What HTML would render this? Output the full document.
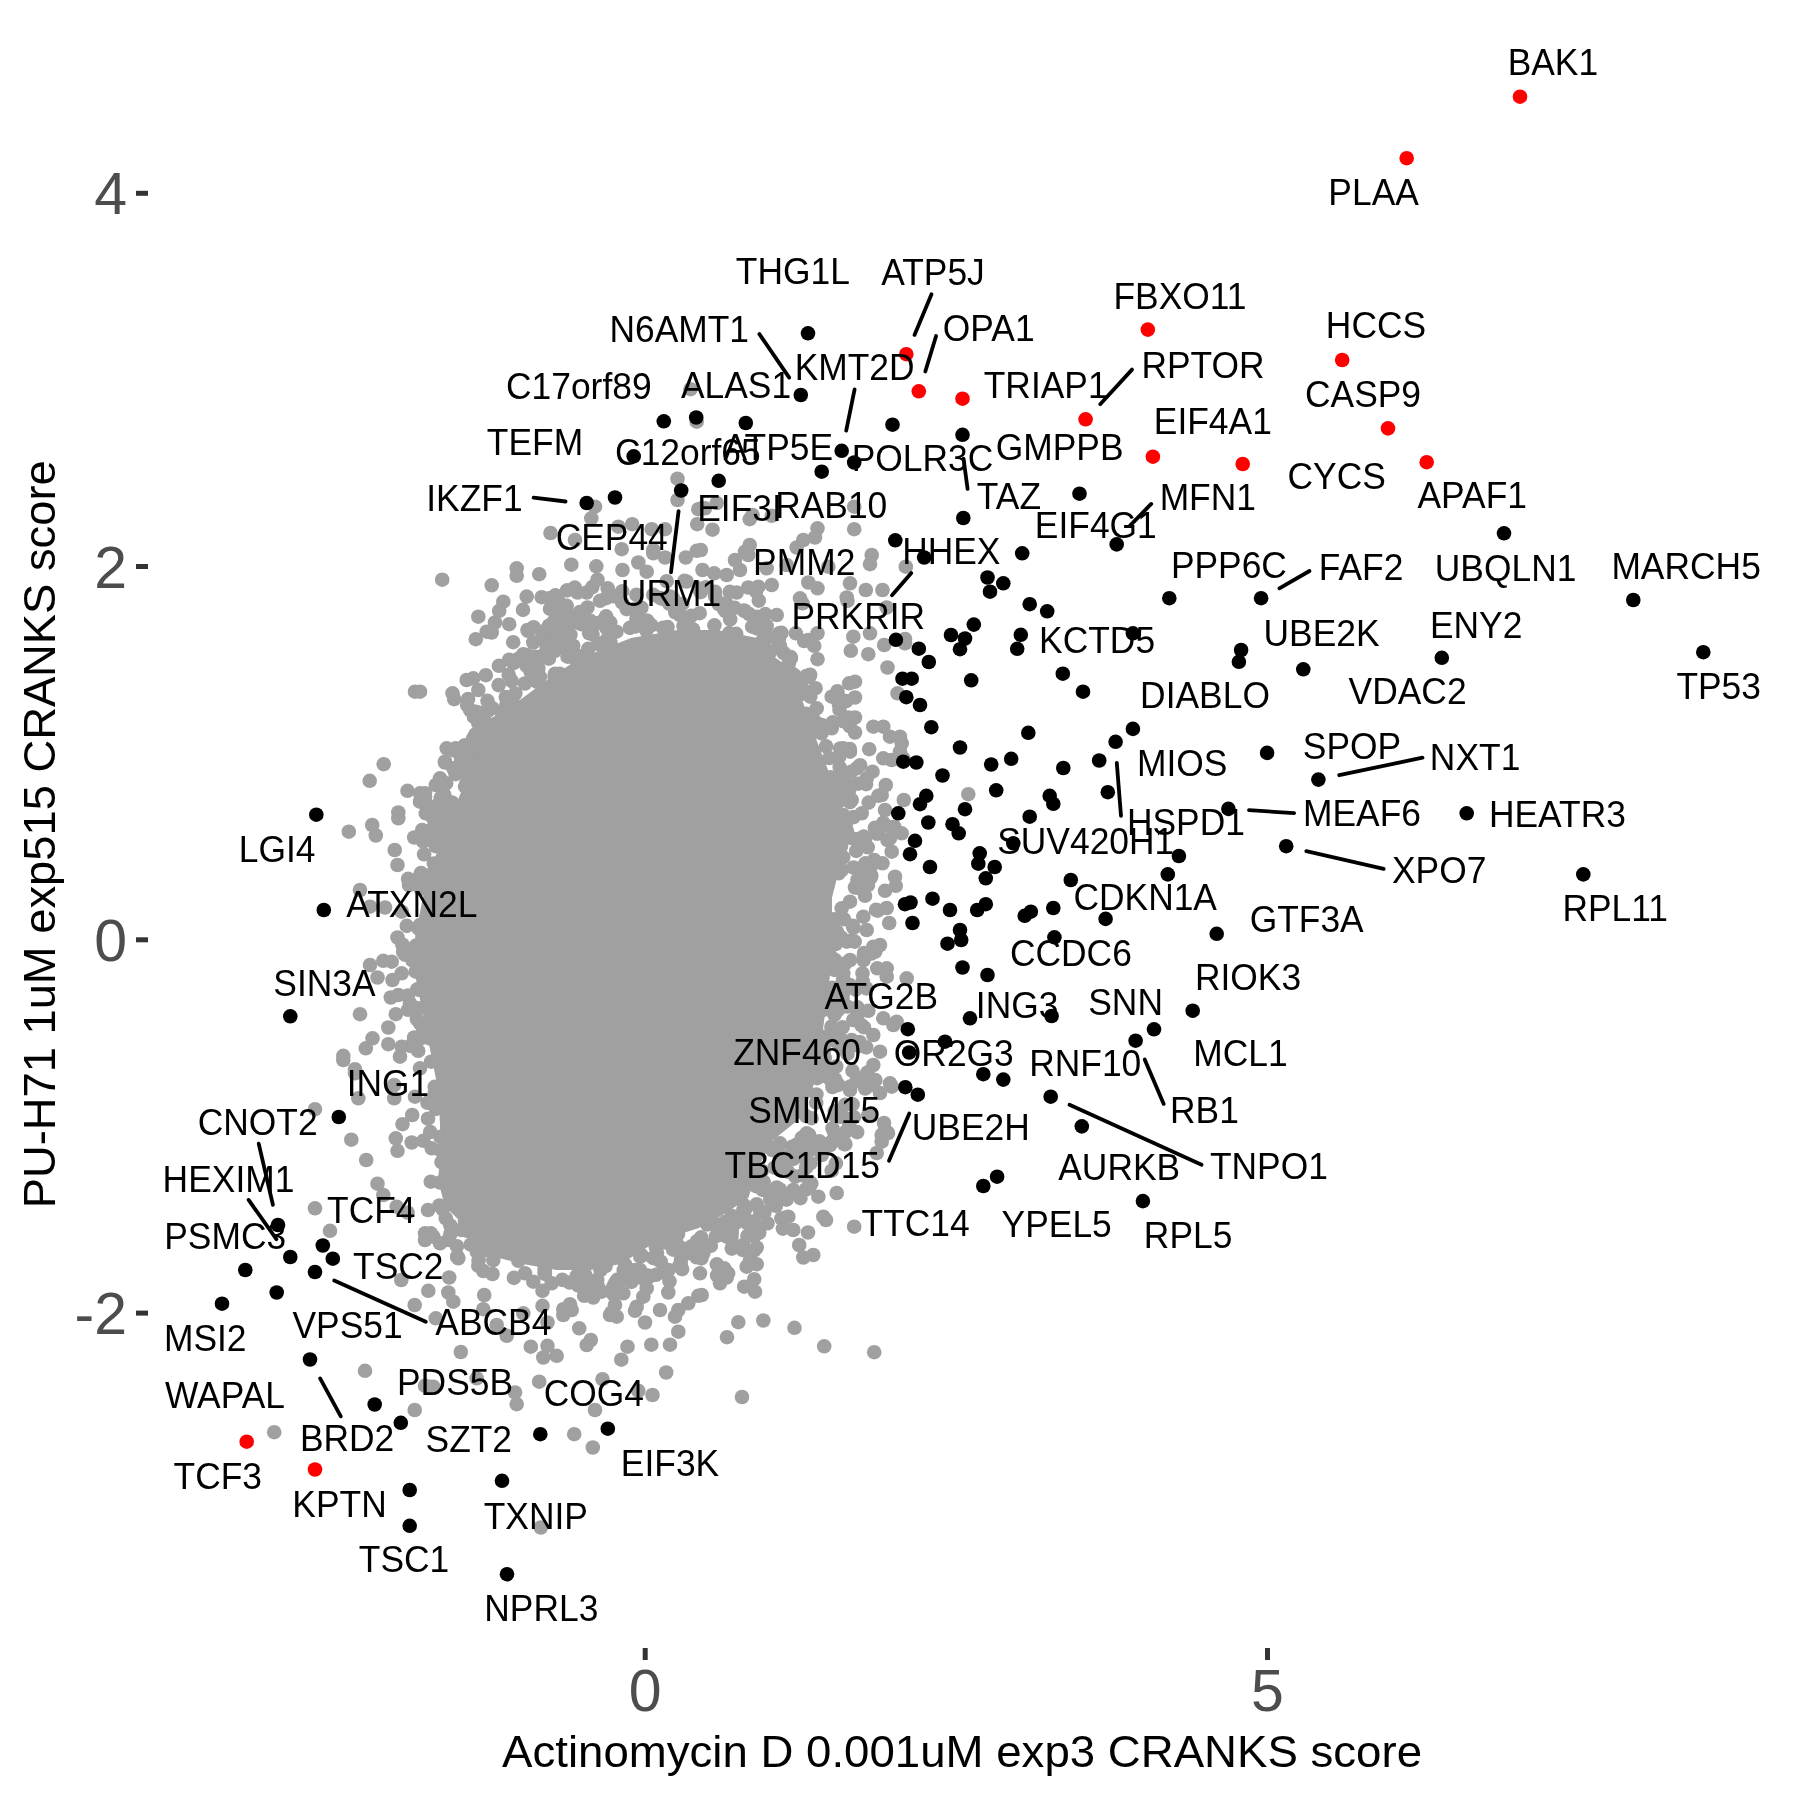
<!DOCTYPE html>
<html><head><meta charset="utf-8"><style>
html,body{margin:0;padding:0;background:#fff;}
svg{display:block;will-change:transform;}
text{font-family:"Liberation Sans",sans-serif;}
</style></head><body>
<svg width="1800" height="1800" viewBox="0 0 1800 1800">
<rect width="1800" height="1800" fill="#fff"/>
<polygon points="483.4,737.8 514.5,706.7 545.6,683.4 580.6,660.0 631.2,640.0 677.8,632.0 716.7,632.0 757.0,640.0 775.0,660.0 786.7,667.8 800.0,700.0 815.0,741.7 830.0,780.6 840.0,820.0 840.0,858.4 830.0,897.3 830.0,936.2 828.0,975.1 823.0,1014.0 817.9,1052.9 810.0,1091.8 795.0,1120.0 770.0,1140.0 755.0,1170.0 746.7,1196.7 721.7,1213.3 696.7,1226.7 655.0,1240.0 620.0,1262.0 590.0,1268.0 556.7,1268.0 523.3,1262.0 486.7,1253.0 466.7,1225.0 446.7,1205.0 440.0,1180.0 443.0,1150.0 440.6,1091.8 432.8,1052.9 425.0,1014.0 417.2,975.1 417.2,936.2 425.0,897.3 436.7,858.4 452.3,819.5 467.8,780.6" fill="#a0a0a0" stroke="#a0a0a0" stroke-width="4" stroke-linejoin="round"/>
<g fill="#a0a0a0"><circle cx="832.2" cy="987.7" r="7.3"/><circle cx="806.3" cy="676.1" r="7.3"/><circle cx="865.9" cy="870.2" r="7.3"/><circle cx="559.7" cy="616.0" r="7.3"/><circle cx="434.7" cy="837.1" r="7.3"/><circle cx="754.4" cy="1183.1" r="7.3"/><circle cx="441.5" cy="1162.1" r="7.3"/><circle cx="557.0" cy="596.4" r="7.3"/><circle cx="473.9" cy="716.9" r="7.3"/><circle cx="576.2" cy="1278.8" r="7.3"/><circle cx="791.0" cy="658.1" r="7.3"/><circle cx="757.8" cy="1185.2" r="7.3"/><circle cx="461.2" cy="759.9" r="7.3"/><circle cx="844.3" cy="834.7" r="7.3"/><circle cx="455.7" cy="748.2" r="7.3"/><circle cx="705.9" cy="587.2" r="7.3"/><circle cx="592.5" cy="634.2" r="7.3"/><circle cx="731.8" cy="1231.9" r="7.3"/><circle cx="555.4" cy="595.3" r="7.3"/><circle cx="788.9" cy="663.0" r="7.3"/><circle cx="513.9" cy="1277.9" r="7.3"/><circle cx="470.2" cy="710.1" r="7.3"/><circle cx="845.4" cy="1144.1" r="7.3"/><circle cx="693.5" cy="1249.0" r="7.3"/><circle cx="460.6" cy="754.7" r="7.3"/><circle cx="838.5" cy="1084.9" r="7.3"/><circle cx="796.6" cy="1152.7" r="7.3"/><circle cx="804.2" cy="641.0" r="7.3"/><circle cx="408.0" cy="1009.8" r="7.3"/><circle cx="435.7" cy="846.1" r="7.3"/><circle cx="856.2" cy="850.9" r="7.3"/><circle cx="838.9" cy="703.8" r="7.3"/><circle cx="407.9" cy="995.5" r="7.3"/><circle cx="476.9" cy="1251.9" r="7.3"/><circle cx="440.5" cy="1136.9" r="7.3"/><circle cx="445.0" cy="762.5" r="7.3"/><circle cx="625.1" cy="1264.6" r="7.3"/><circle cx="652.9" cy="1257.7" r="7.3"/><circle cx="558.3" cy="638.4" r="7.3"/><circle cx="835.6" cy="944.0" r="7.3"/><circle cx="446.5" cy="800.3" r="7.3"/><circle cx="874.9" cy="827.8" r="7.3"/><circle cx="602.8" cy="1266.6" r="7.3"/><circle cx="730.2" cy="619.4" r="7.3"/><circle cx="569.6" cy="616.9" r="7.3"/><circle cx="785.7" cy="1217.6" r="7.3"/><circle cx="810.0" cy="1182.2" r="7.3"/><circle cx="820.8" cy="1151.2" r="7.3"/><circle cx="754.2" cy="1236.0" r="7.3"/><circle cx="809.0" cy="1186.3" r="7.3"/><circle cx="411.2" cy="955.2" r="7.3"/><circle cx="548.8" cy="658.7" r="7.3"/><circle cx="828.8" cy="1002.6" r="7.3"/><circle cx="422.6" cy="1032.9" r="7.3"/><circle cx="717.1" cy="1275.5" r="7.3"/><circle cx="859.6" cy="1042.0" r="7.3"/><circle cx="877.3" cy="968.3" r="7.3"/><circle cx="412.7" cy="960.7" r="7.3"/><circle cx="840.5" cy="997.8" r="7.3"/><circle cx="635.7" cy="626.4" r="7.3"/><circle cx="529.1" cy="657.4" r="7.3"/><circle cx="843.2" cy="978.2" r="7.3"/><circle cx="854.0" cy="1117.2" r="7.3"/><circle cx="544.8" cy="1273.9" r="7.3"/><circle cx="762.7" cy="640.5" r="7.3"/><circle cx="877.8" cy="830.8" r="7.3"/><circle cx="869.9" cy="873.5" r="7.3"/><circle cx="674.6" cy="1242.0" r="7.3"/><circle cx="495.0" cy="724.6" r="7.3"/><circle cx="782.9" cy="1228.6" r="7.3"/><circle cx="452.6" cy="809.0" r="7.3"/><circle cx="606.0" cy="598.2" r="7.3"/><circle cx="450.4" cy="1234.0" r="7.3"/><circle cx="756.9" cy="628.4" r="7.3"/><circle cx="830.1" cy="1142.9" r="7.3"/><circle cx="538.4" cy="668.1" r="7.3"/><circle cx="562.3" cy="1279.9" r="7.3"/><circle cx="744.2" cy="1205.2" r="7.3"/><circle cx="444.0" cy="784.9" r="7.3"/><circle cx="841.7" cy="917.9" r="7.3"/><circle cx="629.9" cy="627.9" r="7.3"/><circle cx="438.1" cy="823.9" r="7.3"/><circle cx="653.3" cy="594.8" r="7.3"/><circle cx="777.0" cy="1196.9" r="7.3"/><circle cx="617.2" cy="1279.9" r="7.3"/><circle cx="819.3" cy="1141.2" r="7.3"/><circle cx="439.8" cy="1092.2" r="7.3"/><circle cx="809.2" cy="676.9" r="7.3"/><circle cx="749.3" cy="614.1" r="7.3"/><circle cx="518.4" cy="658.8" r="7.3"/><circle cx="579.9" cy="612.0" r="7.3"/><circle cx="416.0" cy="945.6" r="7.3"/><circle cx="542.1" cy="637.3" r="7.3"/><circle cx="554.0" cy="632.1" r="7.3"/><circle cx="812.0" cy="716.0" r="7.3"/><circle cx="836.2" cy="1066.5" r="7.3"/><circle cx="675.3" cy="612.4" r="7.3"/><circle cx="573.7" cy="622.1" r="7.3"/><circle cx="607.7" cy="588.4" r="7.3"/><circle cx="833.7" cy="785.7" r="7.3"/><circle cx="806.1" cy="1116.2" r="7.3"/><circle cx="591.0" cy="1280.7" r="7.3"/><circle cx="863.6" cy="960.2" r="7.3"/><circle cx="867.9" cy="885.2" r="7.3"/><circle cx="855.7" cy="989.6" r="7.3"/><circle cx="430.8" cy="806.8" r="7.3"/><circle cx="483.3" cy="713.4" r="7.3"/><circle cx="579.6" cy="1284.4" r="7.3"/><circle cx="783.8" cy="653.0" r="7.3"/><circle cx="724.0" cy="608.9" r="7.3"/><circle cx="421.0" cy="873.0" r="7.3"/><circle cx="554.5" cy="676.9" r="7.3"/><circle cx="731.8" cy="1248.6" r="7.3"/><circle cx="832.7" cy="722.3" r="7.3"/><circle cx="839.7" cy="767.4" r="7.3"/><circle cx="434.8" cy="1093.5" r="7.3"/><circle cx="830.1" cy="1145.0" r="7.3"/><circle cx="678.1" cy="605.5" r="7.3"/><circle cx="541.7" cy="597.2" r="7.3"/><circle cx="824.2" cy="1050.1" r="7.3"/><circle cx="601.7" cy="1291.6" r="7.3"/><circle cx="449.1" cy="822.6" r="7.3"/><circle cx="857.5" cy="1014.9" r="7.3"/><circle cx="574.5" cy="658.3" r="7.3"/><circle cx="431.1" cy="1061.7" r="7.3"/><circle cx="770.2" cy="1199.1" r="7.3"/><circle cx="833.0" cy="937.5" r="7.3"/><circle cx="691.2" cy="615.8" r="7.3"/><circle cx="823.1" cy="1053.5" r="7.3"/><circle cx="753.6" cy="1225.0" r="7.3"/><circle cx="770.5" cy="651.5" r="7.3"/><circle cx="467.2" cy="705.2" r="7.3"/><circle cx="481.2" cy="716.3" r="7.3"/><circle cx="588.2" cy="648.9" r="7.3"/><circle cx="831.2" cy="781.2" r="7.3"/><circle cx="682.1" cy="1269.2" r="7.3"/><circle cx="647.8" cy="621.6" r="7.3"/><circle cx="668.4" cy="1270.1" r="7.3"/><circle cx="513.4" cy="663.2" r="7.3"/><circle cx="526.3" cy="665.6" r="7.3"/><circle cx="743.8" cy="610.5" r="7.3"/><circle cx="836.7" cy="931.3" r="7.3"/><circle cx="850.3" cy="940.7" r="7.3"/><circle cx="468.4" cy="776.3" r="7.3"/><circle cx="842.1" cy="1116.5" r="7.3"/><circle cx="600.5" cy="1270.2" r="7.3"/><circle cx="803.6" cy="1139.9" r="7.3"/><circle cx="533.6" cy="627.2" r="7.3"/><circle cx="811.6" cy="1118.2" r="7.3"/><circle cx="629.4" cy="1280.0" r="7.3"/><circle cx="854.1" cy="1043.2" r="7.3"/><circle cx="700.6" cy="592.2" r="7.3"/><circle cx="816.4" cy="1094.5" r="7.3"/><circle cx="754.3" cy="1250.3" r="7.3"/><circle cx="646.8" cy="620.5" r="7.3"/><circle cx="817.0" cy="1078.2" r="7.3"/><circle cx="849.8" cy="726.2" r="7.3"/><circle cx="864.1" cy="953.0" r="7.3"/><circle cx="842.9" cy="721.2" r="7.3"/><circle cx="457.3" cy="1256.3" r="7.3"/><circle cx="857.4" cy="1007.3" r="7.3"/><circle cx="842.5" cy="997.8" r="7.3"/><circle cx="742.6" cy="1249.9" r="7.3"/><circle cx="668.8" cy="1237.5" r="7.3"/><circle cx="557.0" cy="625.1" r="7.3"/><circle cx="811.3" cy="1183.6" r="7.3"/><circle cx="474.7" cy="739.1" r="7.3"/><circle cx="824.1" cy="1075.8" r="7.3"/><circle cx="450.3" cy="1225.5" r="7.3"/><circle cx="786.5" cy="1199.7" r="7.3"/><circle cx="833.7" cy="919.4" r="7.3"/><circle cx="480.2" cy="722.5" r="7.3"/><circle cx="814.6" cy="1074.3" r="7.3"/><circle cx="823.9" cy="1063.0" r="7.3"/><circle cx="403.2" cy="951.7" r="7.3"/><circle cx="678.0" cy="1234.0" r="7.3"/><circle cx="860.1" cy="765.2" r="7.3"/><circle cx="841.0" cy="846.3" r="7.3"/><circle cx="839.2" cy="1036.3" r="7.3"/><circle cx="806.1" cy="1167.7" r="7.3"/><circle cx="847.6" cy="1119.3" r="7.3"/><circle cx="686.5" cy="581.5" r="7.3"/><circle cx="731.5" cy="1236.7" r="7.3"/><circle cx="421.4" cy="1038.0" r="7.3"/><circle cx="715.1" cy="596.5" r="7.3"/><circle cx="444.3" cy="794.9" r="7.3"/><circle cx="853.5" cy="817.1" r="7.3"/><circle cx="451.9" cy="802.5" r="7.3"/><circle cx="866.4" cy="988.4" r="7.3"/><circle cx="843.0" cy="993.3" r="7.3"/><circle cx="670.1" cy="596.6" r="7.3"/><circle cx="844.2" cy="796.6" r="7.3"/><circle cx="815.6" cy="688.2" r="7.3"/><circle cx="509.2" cy="659.7" r="7.3"/><circle cx="822.8" cy="1036.8" r="7.3"/><circle cx="725.5" cy="611.2" r="7.3"/><circle cx="466.8" cy="771.6" r="7.3"/><circle cx="852.9" cy="925.8" r="7.3"/><circle cx="780.6" cy="1155.2" r="7.3"/><circle cx="868.1" cy="1086.0" r="7.3"/><circle cx="845.1" cy="1104.9" r="7.3"/><circle cx="734.7" cy="607.8" r="7.3"/><circle cx="824.8" cy="1057.8" r="7.3"/><circle cx="859.5" cy="838.7" r="7.3"/><circle cx="845.2" cy="797.6" r="7.3"/><circle cx="678.2" cy="609.0" r="7.3"/><circle cx="640.2" cy="619.8" r="7.3"/><circle cx="852.6" cy="1104.4" r="7.3"/><circle cx="584.8" cy="1274.2" r="7.3"/><circle cx="672.9" cy="597.9" r="7.3"/><circle cx="518.4" cy="1260.8" r="7.3"/><circle cx="862.0" cy="843.2" r="7.3"/><circle cx="847.5" cy="791.0" r="7.3"/><circle cx="683.5" cy="626.0" r="7.3"/><circle cx="834.4" cy="969.9" r="7.3"/><circle cx="524.9" cy="683.5" r="7.3"/><circle cx="831.7" cy="1026.5" r="7.3"/><circle cx="792.1" cy="1146.9" r="7.3"/><circle cx="615.2" cy="1282.9" r="7.3"/><circle cx="427.4" cy="884.4" r="7.3"/><circle cx="819.7" cy="726.3" r="7.3"/><circle cx="866.9" cy="876.3" r="7.3"/><circle cx="816.9" cy="723.1" r="7.3"/><circle cx="850.3" cy="1086.5" r="7.3"/><circle cx="440.7" cy="797.8" r="7.3"/><circle cx="437.3" cy="805.3" r="7.3"/><circle cx="505.8" cy="697.1" r="7.3"/><circle cx="810.5" cy="1163.2" r="7.3"/><circle cx="681.6" cy="1248.2" r="7.3"/><circle cx="567.9" cy="615.1" r="7.3"/><circle cx="418.1" cy="927.6" r="7.3"/><circle cx="875.4" cy="1080.1" r="7.3"/><circle cx="481.1" cy="738.3" r="7.3"/><circle cx="822.7" cy="1067.6" r="7.3"/><circle cx="492.5" cy="1274.0" r="7.3"/><circle cx="735.3" cy="1222.9" r="7.3"/><circle cx="863.9" cy="955.7" r="7.3"/><circle cx="623.7" cy="1270.3" r="7.3"/><circle cx="883.2" cy="822.8" r="7.3"/><circle cx="871.3" cy="953.5" r="7.3"/><circle cx="430.9" cy="829.9" r="7.3"/><circle cx="610.3" cy="622.6" r="7.3"/><circle cx="669.1" cy="603.6" r="7.3"/><circle cx="417.3" cy="989.3" r="7.3"/><circle cx="420.0" cy="875.9" r="7.3"/><circle cx="779.0" cy="637.9" r="7.3"/><circle cx="835.1" cy="989.1" r="7.3"/><circle cx="832.4" cy="1087.0" r="7.3"/><circle cx="656.0" cy="1274.8" r="7.3"/><circle cx="485.8" cy="675.2" r="7.3"/><circle cx="876.0" cy="909.9" r="7.3"/><circle cx="835.4" cy="1033.8" r="7.3"/><circle cx="701.4" cy="1258.4" r="7.3"/><circle cx="487.8" cy="710.8" r="7.3"/><circle cx="858.4" cy="1045.4" r="7.3"/><circle cx="875.3" cy="951.6" r="7.3"/><circle cx="511.6" cy="680.9" r="7.3"/><circle cx="866.2" cy="1047.4" r="7.3"/><circle cx="788.1" cy="1171.8" r="7.3"/><circle cx="765.6" cy="632.2" r="7.3"/><circle cx="832.0" cy="994.1" r="7.3"/><circle cx="584.0" cy="622.9" r="7.3"/><circle cx="853.5" cy="867.5" r="7.3"/><circle cx="526.7" cy="596.6" r="7.3"/><circle cx="715.9" cy="1236.2" r="7.3"/><circle cx="792.2" cy="673.7" r="7.3"/><circle cx="806.1" cy="713.9" r="7.3"/><circle cx="696.5" cy="1257.3" r="7.3"/><circle cx="427.5" cy="1102.8" r="7.3"/><circle cx="850.5" cy="719.8" r="7.3"/><circle cx="701.2" cy="1237.4" r="7.3"/><circle cx="699.3" cy="588.6" r="7.3"/><circle cx="409.0" cy="885.0" r="7.3"/><circle cx="858.4" cy="783.7" r="7.3"/><circle cx="837.4" cy="691.2" r="7.3"/><circle cx="736.2" cy="633.8" r="7.3"/><circle cx="646.3" cy="630.6" r="7.3"/><circle cx="845.1" cy="987.8" r="7.3"/><circle cx="641.3" cy="1272.9" r="7.3"/><circle cx="429.6" cy="1038.4" r="7.3"/><circle cx="765.2" cy="614.1" r="7.3"/><circle cx="446.1" cy="783.3" r="7.3"/><circle cx="831.7" cy="1170.7" r="7.3"/><circle cx="655.9" cy="1247.2" r="7.3"/><circle cx="673.2" cy="1249.7" r="7.3"/><circle cx="569.7" cy="1282.5" r="7.3"/><circle cx="484.2" cy="729.4" r="7.3"/><circle cx="795.3" cy="1176.6" r="7.3"/><circle cx="857.2" cy="1132.1" r="7.3"/><circle cx="841.4" cy="937.6" r="7.3"/><circle cx="434.7" cy="1086.8" r="7.3"/><circle cx="847.5" cy="1053.8" r="7.3"/><circle cx="707.2" cy="1224.4" r="7.3"/><circle cx="818.7" cy="726.6" r="7.3"/><circle cx="418.3" cy="1008.4" r="7.3"/><circle cx="513.2" cy="703.5" r="7.3"/><circle cx="768.7" cy="1146.4" r="7.3"/><circle cx="616.4" cy="631.7" r="7.3"/><circle cx="414.1" cy="1008.5" r="7.3"/><circle cx="801.9" cy="1112.3" r="7.3"/><circle cx="436.0" cy="1108.9" r="7.3"/><circle cx="800.9" cy="694.1" r="7.3"/><circle cx="622.2" cy="591.3" r="7.3"/><circle cx="666.7" cy="581.2" r="7.3"/><circle cx="591.1" cy="1289.4" r="7.3"/><circle cx="574.8" cy="587.6" r="7.3"/><circle cx="663.0" cy="627.8" r="7.3"/><circle cx="846.2" cy="701.1" r="7.3"/><circle cx="846.8" cy="830.8" r="7.3"/><circle cx="773.1" cy="1203.6" r="7.3"/><circle cx="796.4" cy="1144.8" r="7.3"/><circle cx="877.1" cy="833.8" r="7.3"/><circle cx="821.5" cy="733.4" r="7.3"/><circle cx="862.7" cy="981.3" r="7.3"/><circle cx="498.6" cy="685.1" r="7.3"/><circle cx="641.4" cy="607.7" r="7.3"/><circle cx="805.3" cy="1156.0" r="7.3"/><circle cx="857.4" cy="879.9" r="7.3"/><circle cx="765.4" cy="649.4" r="7.3"/><circle cx="714.4" cy="625.3" r="7.3"/><circle cx="405.2" cy="954.8" r="7.3"/><circle cx="779.8" cy="1189.5" r="7.3"/><circle cx="747.2" cy="1223.1" r="7.3"/><circle cx="849.8" cy="749.0" r="7.3"/><circle cx="567.1" cy="590.4" r="7.3"/><circle cx="835.9" cy="1030.2" r="7.3"/><circle cx="420.8" cy="888.8" r="7.3"/><circle cx="726.1" cy="603.2" r="7.3"/><circle cx="456.9" cy="1246.2" r="7.3"/><circle cx="432.3" cy="817.1" r="7.3"/><circle cx="808.2" cy="1141.1" r="7.3"/><circle cx="475.5" cy="734.3" r="7.3"/><circle cx="647.9" cy="1275.6" r="7.3"/><circle cx="408.1" cy="878.9" r="7.3"/><circle cx="502.0" cy="712.6" r="7.3"/><circle cx="867.7" cy="847.3" r="7.3"/><circle cx="835.7" cy="1039.4" r="7.3"/><circle cx="716.8" cy="1264.4" r="7.3"/><circle cx="651.4" cy="625.3" r="7.3"/><circle cx="444.3" cy="833.7" r="7.3"/><circle cx="718.7" cy="1233.6" r="7.3"/><circle cx="478.6" cy="1260.5" r="7.3"/><circle cx="757.2" cy="616.7" r="7.3"/><circle cx="539.8" cy="676.7" r="7.3"/><circle cx="667.6" cy="627.1" r="7.3"/><circle cx="826.1" cy="746.3" r="7.3"/><circle cx="665.1" cy="1242.4" r="7.3"/><circle cx="455.6" cy="774.2" r="7.3"/><circle cx="662.3" cy="598.8" r="7.3"/><circle cx="849.9" cy="785.6" r="7.3"/><circle cx="831.0" cy="990.6" r="7.3"/><circle cx="774.4" cy="1167.7" r="7.3"/><circle cx="699.7" cy="613.2" r="7.3"/><circle cx="592.3" cy="587.1" r="7.3"/><circle cx="565.5" cy="641.4" r="7.3"/><circle cx="832.0" cy="992.1" r="7.3"/><circle cx="806.1" cy="1160.4" r="7.3"/><circle cx="682.3" cy="603.9" r="7.3"/><circle cx="508.7" cy="674.9" r="7.3"/><circle cx="691.2" cy="1246.6" r="7.3"/><circle cx="865.2" cy="1088.5" r="7.3"/><circle cx="831.3" cy="784.8" r="7.3"/><circle cx="819.8" cy="1049.0" r="7.3"/><circle cx="432.8" cy="831.0" r="7.3"/><circle cx="515.3" cy="693.5" r="7.3"/><circle cx="439.0" cy="817.1" r="7.3"/><circle cx="801.7" cy="1137.9" r="7.3"/><circle cx="802.0" cy="1175.3" r="7.3"/><circle cx="810.3" cy="696.6" r="7.3"/><circle cx="681.0" cy="1259.7" r="7.3"/><circle cx="649.9" cy="1276.4" r="7.3"/><circle cx="578.3" cy="1285.5" r="7.3"/><circle cx="430.2" cy="1132.0" r="7.3"/><circle cx="843.3" cy="815.0" r="7.3"/><circle cx="523.0" cy="609.9" r="7.3"/><circle cx="844.4" cy="782.7" r="7.3"/><circle cx="596.1" cy="623.5" r="7.3"/><circle cx="812.8" cy="718.6" r="7.3"/><circle cx="858.8" cy="1046.1" r="7.3"/><circle cx="833.9" cy="788.0" r="7.3"/><circle cx="850.0" cy="985.1" r="7.3"/><circle cx="402.3" cy="944.5" r="7.3"/><circle cx="561.4" cy="626.5" r="7.3"/><circle cx="535.8" cy="680.6" r="7.3"/><circle cx="841.9" cy="838.6" r="7.3"/><circle cx="635.2" cy="608.7" r="7.3"/><circle cx="830.3" cy="1003.9" r="7.3"/><circle cx="532.4" cy="677.4" r="7.3"/><circle cx="822.5" cy="1041.3" r="7.3"/><circle cx="853.6" cy="927.8" r="7.3"/><circle cx="468.1" cy="699.0" r="7.3"/><circle cx="771.1" cy="1201.1" r="7.3"/><circle cx="631.4" cy="1281.9" r="7.3"/><circle cx="548.5" cy="634.0" r="7.3"/><circle cx="804.8" cy="691.1" r="7.3"/><circle cx="439.4" cy="1205.5" r="7.3"/><circle cx="813.0" cy="732.3" r="7.3"/><circle cx="816.2" cy="1102.7" r="7.3"/><circle cx="464.9" cy="745.2" r="7.3"/><circle cx="834.5" cy="1133.4" r="7.3"/><circle cx="496.3" cy="723.3" r="7.3"/><circle cx="549.2" cy="625.5" r="7.3"/><circle cx="759.2" cy="1232.7" r="7.3"/><circle cx="720.5" cy="1234.6" r="7.3"/><circle cx="841.5" cy="797.5" r="7.3"/><circle cx="559.1" cy="606.4" r="7.3"/><circle cx="475.8" cy="711.8" r="7.3"/><circle cx="590.4" cy="620.9" r="7.3"/><circle cx="433.9" cy="863.5" r="7.3"/><circle cx="440.7" cy="844.5" r="7.3"/><circle cx="778.6" cy="1166.8" r="7.3"/><circle cx="669.5" cy="1281.3" r="7.3"/><circle cx="758.8" cy="600.6" r="7.3"/><circle cx="752.2" cy="626.7" r="7.3"/><circle cx="782.8" cy="1161.4" r="7.3"/><circle cx="845.2" cy="963.6" r="7.3"/><circle cx="874.4" cy="863.1" r="7.3"/><circle cx="513.2" cy="642.2" r="7.3"/><circle cx="468.1" cy="1231.0" r="7.3"/><circle cx="831.0" cy="1005.6" r="7.3"/><circle cx="406.8" cy="925.9" r="7.3"/><circle cx="765.3" cy="639.0" r="7.3"/><circle cx="597.2" cy="1279.7" r="7.3"/><circle cx="842.7" cy="774.3" r="7.3"/><circle cx="877.9" cy="910.6" r="7.3"/><circle cx="732.9" cy="1244.8" r="7.3"/><circle cx="418.7" cy="928.5" r="7.3"/><circle cx="486.0" cy="722.8" r="7.3"/><circle cx="800.4" cy="1198.2" r="7.3"/><circle cx="606.6" cy="628.3" r="7.3"/><circle cx="459.3" cy="767.2" r="7.3"/><circle cx="473.2" cy="1244.3" r="7.3"/><circle cx="470.0" cy="757.2" r="7.3"/><circle cx="483.3" cy="1271.0" r="7.3"/><circle cx="781.5" cy="632.8" r="7.3"/><circle cx="779.8" cy="1169.6" r="7.3"/><circle cx="403.4" cy="946.5" r="7.3"/><circle cx="627.0" cy="1274.4" r="7.3"/><circle cx="839.5" cy="709.7" r="7.3"/><circle cx="465.1" cy="786.6" r="7.3"/><circle cx="838.0" cy="1009.9" r="7.3"/><circle cx="616.0" cy="1287.2" r="7.3"/><circle cx="837.2" cy="1010.7" r="7.3"/><circle cx="429.0" cy="875.6" r="7.3"/><circle cx="657.0" cy="1252.8" r="7.3"/><circle cx="570.4" cy="634.7" r="7.3"/><circle cx="845.6" cy="825.2" r="7.3"/><circle cx="864.0" cy="1027.3" r="7.3"/><circle cx="725.4" cy="1222.0" r="7.3"/><circle cx="460.2" cy="752.1" r="7.3"/><circle cx="868.7" cy="802.6" r="7.3"/><circle cx="839.2" cy="700.7" r="7.3"/><circle cx="418.2" cy="1050.8" r="7.3"/><circle cx="841.5" cy="1048.4" r="7.3"/><circle cx="854.7" cy="941.6" r="7.3"/><circle cx="543.1" cy="655.1" r="7.3"/><circle cx="831.9" cy="1074.3" r="7.3"/><circle cx="656.0" cy="1241.7" r="7.3"/><circle cx="641.6" cy="1255.2" r="7.3"/><circle cx="597.8" cy="643.2" r="7.3"/><circle cx="711.9" cy="1223.9" r="7.3"/><circle cx="856.5" cy="1080.9" r="7.3"/><circle cx="861.4" cy="1025.1" r="7.3"/><circle cx="835.5" cy="1116.6" r="7.3"/><circle cx="697.4" cy="1253.9" r="7.3"/><circle cx="838.2" cy="987.4" r="7.3"/><circle cx="806.6" cy="1160.1" r="7.3"/><circle cx="754.2" cy="1221.2" r="7.3"/><circle cx="479.8" cy="712.7" r="7.3"/><circle cx="559.8" cy="673.8" r="7.3"/><circle cx="838.3" cy="1002.5" r="7.3"/><circle cx="838.2" cy="801.9" r="7.3"/><circle cx="530.8" cy="672.2" r="7.3"/><circle cx="457.2" cy="1256.8" r="7.3"/><circle cx="835.9" cy="1163.3" r="7.3"/><circle cx="528.5" cy="631.0" r="7.3"/><circle cx="863.6" cy="836.6" r="7.3"/><circle cx="424.1" cy="854.3" r="7.3"/><circle cx="696.9" cy="1241.4" r="7.3"/><circle cx="693.0" cy="629.3" r="7.3"/><circle cx="763.7" cy="1181.9" r="7.3"/><circle cx="835.1" cy="1079.5" r="7.3"/><circle cx="793.4" cy="1158.9" r="7.3"/><circle cx="659.7" cy="597.7" r="7.3"/><circle cx="544.6" cy="1269.4" r="7.3"/><circle cx="781.4" cy="1218.4" r="7.3"/><circle cx="840.2" cy="748.5" r="7.3"/><circle cx="845.7" cy="1131.9" r="7.3"/><circle cx="432.3" cy="836.5" r="7.3"/><circle cx="684.4" cy="580.8" r="7.3"/><circle cx="718.7" cy="604.0" r="7.3"/><circle cx="468.9" cy="777.0" r="7.3"/><circle cx="794.5" cy="675.5" r="7.3"/><circle cx="506.3" cy="705.0" r="7.3"/><circle cx="867.5" cy="1072.5" r="7.3"/><circle cx="410.3" cy="1045.9" r="7.3"/><circle cx="829.3" cy="758.0" r="7.3"/><circle cx="484.4" cy="1250.3" r="7.3"/><circle cx="824.2" cy="1009.6" r="7.3"/><circle cx="851.1" cy="771.8" r="7.3"/><circle cx="654.2" cy="1258.3" r="7.3"/><circle cx="622.0" cy="602.3" r="7.3"/><circle cx="762.6" cy="1189.8" r="7.3"/><circle cx="729.1" cy="633.1" r="7.3"/><circle cx="573.2" cy="645.7" r="7.3"/><circle cx="554.9" cy="673.8" r="7.3"/><circle cx="725.0" cy="1222.2" r="7.3"/><circle cx="735.2" cy="1223.4" r="7.3"/><circle cx="830.3" cy="777.4" r="7.3"/><circle cx="789.0" cy="1158.0" r="7.3"/><circle cx="442.7" cy="1209.4" r="7.3"/><circle cx="498.9" cy="665.8" r="7.3"/><circle cx="440.7" cy="1150.4" r="7.3"/><circle cx="871.3" cy="875.6" r="7.3"/><circle cx="800.8" cy="684.9" r="7.3"/><circle cx="552.9" cy="638.7" r="7.3"/><circle cx="760.0" cy="1210.7" r="7.3"/><circle cx="548.7" cy="650.4" r="7.3"/><circle cx="761.4" cy="1170.4" r="7.3"/><circle cx="835.5" cy="1041.2" r="7.3"/><circle cx="606.5" cy="640.1" r="7.3"/><circle cx="606.1" cy="616.3" r="7.3"/><circle cx="636.4" cy="618.8" r="7.3"/><circle cx="470.7" cy="1244.7" r="7.3"/><circle cx="581.1" cy="624.2" r="7.3"/><circle cx="679.1" cy="1266.1" r="7.3"/><circle cx="790.7" cy="657.1" r="7.3"/><circle cx="850.0" cy="802.2" r="7.3"/><circle cx="636.4" cy="594.8" r="7.3"/><circle cx="805.9" cy="1189.5" r="7.3"/><circle cx="502.3" cy="715.0" r="7.3"/><circle cx="830.2" cy="1070.5" r="7.3"/><circle cx="640.3" cy="1256.7" r="7.3"/><circle cx="452.0" cy="1228.1" r="7.3"/><circle cx="865.4" cy="863.3" r="7.3"/><circle cx="842.6" cy="1027.3" r="7.3"/><circle cx="469.8" cy="759.1" r="7.3"/><circle cx="605.6" cy="1266.0" r="7.3"/><circle cx="755.1" cy="1230.0" r="7.3"/><circle cx="492.4" cy="708.2" r="7.3"/><circle cx="544.8" cy="1273.2" r="7.3"/><circle cx="732.8" cy="634.8" r="7.3"/><circle cx="832.8" cy="928.5" r="7.3"/><circle cx="610.4" cy="642.4" r="7.3"/><circle cx="772.4" cy="1150.2" r="7.3"/><circle cx="761.5" cy="1171.4" r="7.3"/><circle cx="700.6" cy="1255.5" r="7.3"/><circle cx="827.0" cy="1040.2" r="7.3"/><circle cx="756.0" cy="591.4" r="7.3"/><circle cx="834.8" cy="1111.4" r="7.3"/><circle cx="810.1" cy="674.7" r="7.3"/><circle cx="811.8" cy="1149.2" r="7.3"/><circle cx="834.5" cy="1014.9" r="7.3"/><circle cx="843.2" cy="857.4" r="7.3"/><circle cx="839.6" cy="776.8" r="7.3"/><circle cx="851.2" cy="838.0" r="7.3"/><circle cx="453.7" cy="750.4" r="7.3"/><circle cx="744.9" cy="611.0" r="7.3"/><circle cx="729.8" cy="591.9" r="7.3"/><circle cx="551.6" cy="642.7" r="7.3"/><circle cx="599.6" cy="644.5" r="7.3"/><circle cx="858.4" cy="887.8" r="7.3"/><circle cx="866.1" cy="784.1" r="7.3"/><circle cx="764.4" cy="1212.6" r="7.3"/><circle cx="466.5" cy="783.4" r="7.3"/><circle cx="719.9" cy="1272.3" r="7.3"/><circle cx="844.0" cy="919.2" r="7.3"/><circle cx="838.7" cy="873.3" r="7.3"/><circle cx="550.0" cy="608.8" r="7.3"/><circle cx="756.0" cy="1186.1" r="7.3"/><circle cx="416.9" cy="1019.1" r="7.3"/><circle cx="849.2" cy="1123.3" r="7.3"/><circle cx="847.2" cy="1006.5" r="7.3"/><circle cx="716.9" cy="1224.6" r="7.3"/><circle cx="642.9" cy="1278.5" r="7.3"/><circle cx="830.6" cy="956.2" r="7.3"/><circle cx="562.1" cy="605.2" r="7.3"/><circle cx="745.8" cy="1208.3" r="7.3"/><circle cx="580.2" cy="656.4" r="7.3"/><circle cx="829.9" cy="992.6" r="7.3"/><circle cx="728.1" cy="1273.4" r="7.3"/><circle cx="554.5" cy="651.0" r="7.3"/><circle cx="843.2" cy="1142.6" r="7.3"/><circle cx="777.8" cy="640.5" r="7.3"/><circle cx="690.5" cy="389.2" r="7.3"/><circle cx="696.7" cy="421.7" r="7.3"/><circle cx="677.5" cy="478.7" r="7.3"/><circle cx="677.5" cy="500.0" r="7.3"/><circle cx="595.0" cy="506.7" r="7.3"/><circle cx="591.3" cy="518.3" r="7.3"/><circle cx="550.5" cy="533.0" r="7.3"/><circle cx="618.3" cy="526.7" r="7.3"/><circle cx="632.2" cy="524.2" r="7.3"/><circle cx="651.7" cy="529.2" r="7.3"/><circle cx="665.0" cy="529.2" r="7.3"/><circle cx="697.2" cy="524.2" r="7.3"/><circle cx="712.5" cy="529.7" r="7.3"/><circle cx="701.7" cy="508.3" r="7.3"/><circle cx="716.7" cy="503.0" r="7.3"/><circle cx="749.7" cy="519.2" r="7.3"/><circle cx="771.7" cy="515.8" r="7.3"/><circle cx="749.7" cy="545.0" r="7.3"/><circle cx="621.7" cy="549.2" r="7.3"/><circle cx="575.0" cy="540.0" r="7.3"/><circle cx="696.7" cy="550.8" r="7.3"/><circle cx="653.3" cy="550.0" r="7.3"/><circle cx="745.0" cy="551.7" r="7.3"/><circle cx="705.0" cy="508.3" r="7.3"/><circle cx="752.5" cy="515.0" r="7.3"/><circle cx="854.2" cy="506.7" r="7.3"/><circle cx="817.5" cy="528.3" r="7.3"/><circle cx="815.0" cy="537.5" r="7.3"/><circle cx="803.3" cy="540.0" r="7.3"/><circle cx="796.7" cy="547.5" r="7.3"/><circle cx="854.2" cy="529.2" r="7.3"/><circle cx="748.3" cy="555.0" r="7.3"/><circle cx="735.0" cy="560.0" r="7.3"/><circle cx="740.0" cy="570.0" r="7.3"/><circle cx="726.7" cy="575.0" r="7.3"/><circle cx="714.2" cy="573.3" r="7.3"/><circle cx="702.5" cy="570.0" r="7.3"/><circle cx="700.8" cy="550.0" r="7.3"/><circle cx="766.7" cy="568.3" r="7.3"/><circle cx="786.7" cy="565.0" r="7.3"/><circle cx="828.3" cy="566.7" r="7.3"/><circle cx="871.7" cy="555.0" r="7.3"/><circle cx="870.0" cy="564.2" r="7.3"/><circle cx="905.8" cy="566.7" r="7.3"/><circle cx="850.0" cy="583.3" r="7.3"/><circle cx="865.8" cy="590.0" r="7.3"/><circle cx="882.5" cy="590.0" r="7.3"/><circle cx="808.3" cy="582.5" r="7.3"/><circle cx="817.5" cy="588.3" r="7.3"/><circle cx="771.7" cy="585.0" r="7.3"/><circle cx="758.3" cy="586.7" r="7.3"/><circle cx="748.3" cy="587.5" r="7.3"/><circle cx="736.7" cy="592.5" r="7.3"/><circle cx="715.0" cy="591.7" r="7.3"/><circle cx="800.0" cy="598.3" r="7.3"/><circle cx="846.7" cy="597.5" r="7.3"/><circle cx="886.7" cy="607.5" r="7.3"/><circle cx="905.0" cy="639.0" r="7.3"/><circle cx="884.2" cy="645.0" r="7.3"/><circle cx="905.0" cy="643.3" r="7.3"/><circle cx="887.5" cy="667.5" r="7.3"/><circle cx="897.5" cy="693.3" r="7.3"/><circle cx="883.3" cy="726.7" r="7.3"/><circle cx="890.0" cy="736.7" r="7.3"/><circle cx="900.0" cy="736.7" r="7.3"/><circle cx="901.7" cy="743.3" r="7.3"/><circle cx="900.0" cy="751.7" r="7.3"/><circle cx="883.3" cy="758.3" r="7.3"/><circle cx="891.7" cy="760.0" r="7.3"/><circle cx="903.3" cy="758.3" r="7.3"/><circle cx="885.8" cy="785.0" r="7.3"/><circle cx="881.7" cy="795.0" r="7.3"/><circle cx="903.8" cy="800.0" r="7.3"/><circle cx="968.3" cy="794.2" r="7.3"/><circle cx="885.0" cy="810.0" r="7.3"/><circle cx="885.0" cy="825.0" r="7.3"/><circle cx="894.2" cy="826.7" r="7.3"/><circle cx="901.7" cy="833.3" r="7.3"/><circle cx="887.5" cy="840.0" r="7.3"/><circle cx="891.7" cy="851.7" r="7.3"/><circle cx="882.5" cy="863.3" r="7.3"/><circle cx="895.8" cy="885.8" r="7.3"/><circle cx="885.0" cy="890.8" r="7.3"/><circle cx="886.7" cy="908.0" r="7.3"/><circle cx="889.2" cy="923.0" r="7.3"/><circle cx="880.0" cy="945.0" r="7.3"/><circle cx="886.7" cy="968.3" r="7.3"/><circle cx="906.7" cy="978.3" r="7.3"/><circle cx="886.7" cy="976.7" r="7.3"/><circle cx="896.7" cy="1021.7" r="7.3"/><circle cx="880.0" cy="1051.7" r="7.3"/><circle cx="891.7" cy="1086.7" r="7.3"/><circle cx="880.0" cy="1093.0" r="7.3"/><circle cx="884.0" cy="1123.0" r="7.3"/><circle cx="888.0" cy="1133.0" r="7.3"/><circle cx="876.7" cy="1153.0" r="7.3"/><circle cx="881.7" cy="1135.0" r="7.3"/><circle cx="844.2" cy="1144.2" r="7.3"/><circle cx="821.7" cy="1150.8" r="7.3"/><circle cx="832.5" cy="1128.3" r="7.3"/><circle cx="809.2" cy="1135.0" r="7.3"/><circle cx="807.5" cy="1145.0" r="7.3"/><circle cx="868.3" cy="1115.0" r="7.3"/><circle cx="840.0" cy="1116.7" r="7.3"/><circle cx="836.7" cy="1193.0" r="7.3"/><circle cx="818.3" cy="1196.7" r="7.3"/><circle cx="809.2" cy="1187.5" r="7.3"/><circle cx="793.3" cy="1190.0" r="7.3"/><circle cx="823.3" cy="1216.7" r="7.3"/><circle cx="826.0" cy="1220.0" r="7.3"/><circle cx="854.2" cy="1226.7" r="7.3"/><circle cx="808.0" cy="1232.5" r="7.3"/><circle cx="793.3" cy="1230.0" r="7.3"/><circle cx="788.3" cy="1216.7" r="7.3"/><circle cx="799.2" cy="1245.0" r="7.3"/><circle cx="813.3" cy="1255.0" r="7.3"/><circle cx="803.3" cy="1257.5" r="7.3"/><circle cx="767.5" cy="1223.3" r="7.3"/><circle cx="775.8" cy="1205.8" r="7.3"/><circle cx="756.7" cy="1204.2" r="7.3"/><circle cx="743.3" cy="1210.0" r="7.3"/><circle cx="726.7" cy="1236.7" r="7.3"/><circle cx="747.5" cy="1235.8" r="7.3"/><circle cx="756.7" cy="1247.5" r="7.3"/><circle cx="743.3" cy="1245.0" r="7.3"/><circle cx="706.7" cy="1245.0" r="7.3"/><circle cx="750.0" cy="1260.0" r="7.3"/><circle cx="756.7" cy="1264.2" r="7.3"/><circle cx="746.7" cy="1266.7" r="7.3"/><circle cx="724.2" cy="1268.3" r="7.3"/><circle cx="718.3" cy="1275.0" r="7.3"/><circle cx="754.2" cy="1279.2" r="7.3"/><circle cx="744.2" cy="1286.7" r="7.3"/><circle cx="755.0" cy="1291.7" r="7.3"/><circle cx="720.0" cy="1283.3" r="7.3"/><circle cx="700.0" cy="1273.3" r="7.3"/><circle cx="701.7" cy="1295.0" r="7.3"/><circle cx="348.8" cy="831.7" r="7.3"/><circle cx="372.2" cy="825.0" r="7.3"/><circle cx="375.8" cy="835.5" r="7.3"/><circle cx="398.3" cy="812.5" r="7.3"/><circle cx="398.3" cy="818.3" r="7.3"/><circle cx="407.5" cy="790.8" r="7.3"/><circle cx="420.0" cy="793.3" r="7.3"/><circle cx="425.0" cy="796.7" r="7.3"/><circle cx="420.0" cy="801.7" r="7.3"/><circle cx="369.7" cy="780.8" r="7.3"/><circle cx="435.8" cy="785.0" r="7.3"/><circle cx="425.8" cy="813.3" r="7.3"/><circle cx="436.7" cy="817.5" r="7.3"/><circle cx="446.7" cy="813.3" r="7.3"/><circle cx="422.2" cy="830.0" r="7.3"/><circle cx="414.2" cy="837.5" r="7.3"/><circle cx="423.3" cy="841.7" r="7.3"/><circle cx="444.2" cy="831.7" r="7.3"/><circle cx="445.0" cy="846.7" r="7.3"/><circle cx="394.7" cy="850.0" r="7.3"/><circle cx="397.5" cy="865.0" r="7.3"/><circle cx="441.7" cy="861.7" r="7.3"/><circle cx="431.7" cy="874.2" r="7.3"/><circle cx="419.2" cy="885.0" r="7.3"/><circle cx="433.3" cy="884.2" r="7.3"/><circle cx="360.0" cy="890.0" r="7.3"/><circle cx="370.0" cy="906.7" r="7.3"/><circle cx="385.0" cy="907.5" r="7.3"/><circle cx="401.7" cy="911.7" r="7.3"/><circle cx="421.7" cy="930.0" r="7.3"/><circle cx="397.5" cy="937.5" r="7.3"/><circle cx="420.0" cy="951.7" r="7.3"/><circle cx="370.0" cy="965.0" r="7.3"/><circle cx="383.3" cy="960.8" r="7.3"/><circle cx="391.7" cy="961.7" r="7.3"/><circle cx="377.5" cy="977.5" r="7.3"/><circle cx="392.5" cy="980.0" r="7.3"/><circle cx="401.7" cy="973.3" r="7.3"/><circle cx="415.8" cy="971.7" r="7.3"/><circle cx="428.3" cy="986.7" r="7.3"/><circle cx="420.0" cy="990.0" r="7.3"/><circle cx="390.8" cy="997.5" r="7.3"/><circle cx="398.3" cy="995.0" r="7.3"/><circle cx="410.0" cy="1003.3" r="7.3"/><circle cx="426.7" cy="1005.0" r="7.3"/><circle cx="360.0" cy="1014.2" r="7.3"/><circle cx="395.8" cy="1014.2" r="7.3"/><circle cx="388.3" cy="1027.5" r="7.3"/><circle cx="420.0" cy="1023.3" r="7.3"/><circle cx="414.2" cy="1037.5" r="7.3"/><circle cx="372.5" cy="1038.3" r="7.3"/><circle cx="365.8" cy="1048.3" r="7.3"/><circle cx="388.3" cy="1044.2" r="7.3"/><circle cx="401.7" cy="1046.7" r="7.3"/><circle cx="400.0" cy="1056.7" r="7.3"/><circle cx="343.3" cy="1055.8" r="7.3"/><circle cx="355.0" cy="1069.2" r="7.3"/><circle cx="420.0" cy="1068.3" r="7.3"/><circle cx="433.3" cy="1037.5" r="7.3"/><circle cx="315.0" cy="1109.2" r="7.3"/><circle cx="351.3" cy="1139.7" r="7.3"/><circle cx="366.2" cy="1160.0" r="7.3"/><circle cx="377.5" cy="1183.7" r="7.3"/><circle cx="383.3" cy="1195.0" r="7.3"/><circle cx="315.0" cy="1208.3" r="7.3"/><circle cx="330.0" cy="1230.8" r="7.3"/><circle cx="355.0" cy="1073.3" r="7.3"/><circle cx="358.3" cy="1098.3" r="7.3"/><circle cx="343.3" cy="1060.0" r="7.3"/><circle cx="395.8" cy="1138.3" r="7.3"/><circle cx="397.5" cy="1150.8" r="7.3"/><circle cx="411.7" cy="1142.5" r="7.3"/><circle cx="423.3" cy="1140.8" r="7.3"/><circle cx="431.7" cy="1148.3" r="7.3"/><circle cx="402.5" cy="1124.2" r="7.3"/><circle cx="412.2" cy="1115.0" r="7.3"/><circle cx="428.0" cy="1118.7" r="7.3"/><circle cx="394.2" cy="1085.0" r="7.3"/><circle cx="430.8" cy="1181.7" r="7.3"/><circle cx="396.7" cy="1206.7" r="7.3"/><circle cx="407.5" cy="1212.5" r="7.3"/><circle cx="428.0" cy="1210.0" r="7.3"/><circle cx="425.0" cy="1233.3" r="7.3"/><circle cx="433.3" cy="1236.7" r="7.3"/><circle cx="401.3" cy="1280.0" r="7.3"/><circle cx="428.3" cy="1290.8" r="7.3"/><circle cx="414.7" cy="1305.0" r="7.3"/><circle cx="435.8" cy="1318.3" r="7.3"/><circle cx="274.2" cy="1432.2" r="7.3"/><circle cx="365.0" cy="1370.8" r="7.3"/><circle cx="414.7" cy="1410.0" r="7.3"/><circle cx="425.0" cy="1385.8" r="7.3"/><circle cx="433.3" cy="1386.7" r="7.3"/><circle cx="453.3" cy="1301.7" r="7.3"/><circle cx="460.8" cy="1352.0" r="7.3"/><circle cx="483.3" cy="1309.2" r="7.3"/><circle cx="496.7" cy="1325.0" r="7.3"/><circle cx="506.7" cy="1335.8" r="7.3"/><circle cx="530.8" cy="1346.7" r="7.3"/><circle cx="547.5" cy="1345.8" r="7.3"/><circle cx="543.3" cy="1357.5" r="7.3"/><circle cx="556.7" cy="1355.8" r="7.3"/><circle cx="547.5" cy="1322.5" r="7.3"/><circle cx="542.5" cy="1305.8" r="7.3"/><circle cx="563.3" cy="1315.0" r="7.3"/><circle cx="571.7" cy="1310.0" r="7.3"/><circle cx="579.2" cy="1328.3" r="7.3"/><circle cx="590.8" cy="1340.0" r="7.3"/><circle cx="586.7" cy="1345.0" r="7.3"/><circle cx="611.7" cy="1312.5" r="7.3"/><circle cx="616.7" cy="1316.7" r="7.3"/><circle cx="635.0" cy="1310.8" r="7.3"/><circle cx="645.0" cy="1322.5" r="7.3"/><circle cx="660.0" cy="1310.0" r="7.3"/><circle cx="675.0" cy="1316.7" r="7.3"/><circle cx="678.3" cy="1331.7" r="7.3"/><circle cx="627.5" cy="1346.7" r="7.3"/><circle cx="651.3" cy="1344.7" r="7.3"/><circle cx="670.0" cy="1344.7" r="7.3"/><circle cx="621.3" cy="1359.7" r="7.3"/><circle cx="666.2" cy="1372.5" r="7.3"/><circle cx="602.5" cy="1379.2" r="7.3"/><circle cx="638.3" cy="1390.8" r="7.3"/><circle cx="652.5" cy="1395.0" r="7.3"/><circle cx="595.0" cy="1410.0" r="7.3"/><circle cx="574.2" cy="1434.2" r="7.3"/><circle cx="592.8" cy="1447.5" r="7.3"/><circle cx="539.2" cy="1381.7" r="7.3"/><circle cx="516.7" cy="1404.2" r="7.3"/><circle cx="515.0" cy="1392.5" r="7.3"/><circle cx="476.7" cy="1378.3" r="7.3"/><circle cx="430.0" cy="1386.7" r="7.3"/><circle cx="540.8" cy="1527.5" r="7.3"/><circle cx="442.2" cy="579.7" r="7.3"/><circle cx="491.7" cy="585.3" r="7.3"/><circle cx="516.7" cy="568.3" r="7.3"/><circle cx="516.7" cy="575.8" r="7.3"/><circle cx="539.2" cy="574.2" r="7.3"/><circle cx="571.3" cy="564.7" r="7.3"/><circle cx="596.3" cy="566.3" r="7.3"/><circle cx="597.5" cy="579.7" r="7.3"/><circle cx="622.5" cy="570.0" r="7.3"/><circle cx="638.3" cy="562.5" r="7.3"/><circle cx="646.7" cy="571.7" r="7.3"/><circle cx="653.3" cy="553.3" r="7.3"/><circle cx="665.0" cy="557.5" r="7.3"/><circle cx="685.8" cy="557.5" r="7.3"/><circle cx="698.3" cy="509.2" r="7.3"/><circle cx="503.3" cy="601.7" r="7.3"/><circle cx="499.2" cy="610.8" r="7.3"/><circle cx="478.3" cy="616.7" r="7.3"/><circle cx="495.0" cy="622.5" r="7.3"/><circle cx="509.2" cy="624.2" r="7.3"/><circle cx="486.7" cy="631.7" r="7.3"/><circle cx="475.8" cy="639.2" r="7.3"/><circle cx="527.5" cy="630.0" r="7.3"/><circle cx="549.2" cy="598.3" r="7.3"/><circle cx="559.2" cy="602.5" r="7.3"/><circle cx="566.7" cy="605.8" r="7.3"/><circle cx="577.5" cy="592.5" r="7.3"/><circle cx="586.7" cy="592.5" r="7.3"/><circle cx="613.8" cy="596.3" r="7.3"/><circle cx="587.5" cy="607.5" r="7.3"/><circle cx="600.0" cy="600.8" r="7.3"/><circle cx="554.2" cy="620.8" r="7.3"/><circle cx="545.8" cy="630.0" r="7.3"/><circle cx="562.5" cy="630.0" r="7.3"/><circle cx="589.2" cy="633.3" r="7.3"/><circle cx="626.7" cy="609.2" r="7.3"/><circle cx="680.0" cy="615.0" r="7.3"/><circle cx="533.3" cy="642.5" r="7.3"/><circle cx="546.7" cy="646.7" r="7.3"/><circle cx="491.7" cy="632.5" r="7.3"/><circle cx="515.0" cy="661.7" r="7.3"/><circle cx="526.7" cy="655.0" r="7.3"/><circle cx="535.0" cy="656.7" r="7.3"/><circle cx="531.7" cy="665.8" r="7.3"/><circle cx="553.3" cy="603.3" r="7.3"/><circle cx="601.7" cy="621.7" r="7.3"/><circle cx="563.3" cy="648.3" r="7.3"/><circle cx="567.5" cy="656.7" r="7.3"/><circle cx="466.7" cy="680.0" r="7.3"/><circle cx="473.3" cy="678.3" r="7.3"/><circle cx="478.3" cy="690.0" r="7.3"/><circle cx="452.5" cy="693.3" r="7.3"/><circle cx="454.2" cy="699.2" r="7.3"/><circle cx="487.5" cy="700.8" r="7.3"/><circle cx="510.0" cy="704.2" r="7.3"/><circle cx="482.5" cy="714.2" r="7.3"/><circle cx="478.3" cy="723.3" r="7.3"/><circle cx="490.0" cy="728.3" r="7.3"/><circle cx="505.0" cy="728.3" r="7.3"/><circle cx="476.7" cy="738.3" r="7.3"/><circle cx="446.7" cy="748.3" r="7.3"/><circle cx="463.3" cy="753.3" r="7.3"/><circle cx="475.0" cy="746.7" r="7.3"/><circle cx="488.3" cy="756.7" r="7.3"/><circle cx="445.0" cy="761.7" r="7.3"/><circle cx="453.3" cy="768.3" r="7.3"/><circle cx="470.0" cy="773.3" r="7.3"/><circle cx="500.0" cy="766.7" r="7.3"/><circle cx="440.0" cy="778.3" r="7.3"/><circle cx="425.0" cy="793.3" r="7.3"/><circle cx="420.0" cy="691.7" r="7.3"/><circle cx="536.7" cy="681.7" r="7.3"/><circle cx="562.5" cy="675.8" r="7.3"/><circle cx="847.5" cy="600.8" r="7.3"/><circle cx="802.5" cy="603.3" r="7.3"/><circle cx="776.7" cy="615.0" r="7.3"/><circle cx="766.7" cy="625.8" r="7.3"/><circle cx="795.8" cy="633.3" r="7.3"/><circle cx="817.5" cy="633.3" r="7.3"/><circle cx="808.3" cy="640.0" r="7.3"/><circle cx="814.2" cy="645.8" r="7.3"/><circle cx="779.2" cy="633.3" r="7.3"/><circle cx="780.0" cy="645.8" r="7.3"/><circle cx="790.0" cy="658.3" r="7.3"/><circle cx="817.5" cy="659.2" r="7.3"/><circle cx="773.3" cy="666.7" r="7.3"/><circle cx="780.0" cy="670.8" r="7.3"/><circle cx="853.3" cy="636.7" r="7.3"/><circle cx="870.0" cy="633.3" r="7.3"/><circle cx="850.8" cy="650.8" r="7.3"/><circle cx="868.3" cy="654.2" r="7.3"/><circle cx="849.2" cy="683.3" r="7.3"/><circle cx="855.0" cy="681.7" r="7.3"/><circle cx="831.7" cy="696.7" r="7.3"/><circle cx="838.3" cy="696.7" r="7.3"/><circle cx="855.0" cy="697.5" r="7.3"/><circle cx="816.7" cy="708.3" r="7.3"/><circle cx="795.0" cy="715.0" r="7.3"/><circle cx="848.3" cy="717.5" r="7.3"/><circle cx="855.0" cy="717.5" r="7.3"/><circle cx="855.0" cy="732.5" r="7.3"/><circle cx="808.3" cy="728.3" r="7.3"/><circle cx="831.7" cy="728.3" r="7.3"/><circle cx="821.7" cy="725.0" r="7.3"/><circle cx="873.3" cy="726.7" r="7.3"/><circle cx="869.2" cy="749.2" r="7.3"/><circle cx="843.3" cy="748.3" r="7.3"/><circle cx="850.0" cy="751.7" r="7.3"/><circle cx="839.2" cy="756.7" r="7.3"/><circle cx="856.7" cy="768.3" r="7.3"/><circle cx="872.5" cy="771.7" r="7.3"/><circle cx="866.7" cy="778.3" r="7.3"/><circle cx="878.3" cy="795.8" r="7.3"/><circle cx="849.2" cy="790.0" r="7.3"/><circle cx="851.7" cy="800.0" r="7.3"/><circle cx="861.7" cy="813.3" r="7.3"/><circle cx="881.7" cy="826.7" r="7.3"/><circle cx="890.0" cy="838.3" r="7.3"/><circle cx="865.0" cy="840.0" r="7.3"/><circle cx="874.2" cy="860.0" r="7.3"/><circle cx="863.3" cy="866.7" r="7.3"/><circle cx="895.0" cy="876.7" r="7.3"/><circle cx="415.0" cy="691.7" r="7.3"/><circle cx="523.3" cy="654.2" r="7.3"/><circle cx="473.3" cy="738.3" r="7.3"/><circle cx="383.7" cy="764.2" r="7.3"/><circle cx="466.7" cy="754.2" r="7.3"/><circle cx="451.7" cy="816.7" r="7.3"/><circle cx="471.7" cy="816.7" r="7.3"/><circle cx="453.3" cy="836.7" r="7.3"/><circle cx="470.0" cy="831.7" r="7.3"/><circle cx="420.0" cy="925.0" r="7.3"/><circle cx="426.7" cy="935.0" r="7.3"/><circle cx="438.3" cy="971.7" r="7.3"/><circle cx="413.3" cy="1010.0" r="7.3"/><circle cx="430.0" cy="1035.0" r="7.3"/><circle cx="441.7" cy="1036.7" r="7.3"/><circle cx="394.2" cy="1098.3" r="7.3"/><circle cx="415.0" cy="1096.7" r="7.3"/><circle cx="436.7" cy="1103.3" r="7.3"/><circle cx="448.3" cy="1160.0" r="7.3"/><circle cx="440.0" cy="1182.5" r="7.3"/><circle cx="445.8" cy="1218.3" r="7.3"/><circle cx="461.7" cy="1230.0" r="7.3"/><circle cx="465.0" cy="1220.8" r="7.3"/><circle cx="491.7" cy="1215.8" r="7.3"/><circle cx="509.2" cy="1210.0" r="7.3"/><circle cx="425.0" cy="1240.0" r="7.3"/><circle cx="430.8" cy="1233.3" r="7.3"/><circle cx="440.0" cy="1243.3" r="7.3"/><circle cx="448.3" cy="1240.0" r="7.3"/><circle cx="458.3" cy="1258.3" r="7.3"/><circle cx="478.3" cy="1265.8" r="7.3"/><circle cx="485.0" cy="1241.7" r="7.3"/><circle cx="497.5" cy="1233.3" r="7.3"/><circle cx="493.3" cy="1260.0" r="7.3"/><circle cx="449.2" cy="1277.5" r="7.3"/><circle cx="448.3" cy="1292.5" r="7.3"/><circle cx="484.2" cy="1295.0" r="7.3"/><circle cx="525.0" cy="1273.3" r="7.3"/><circle cx="533.3" cy="1281.7" r="7.3"/><circle cx="542.5" cy="1290.8" r="7.3"/><circle cx="551.7" cy="1283.3" r="7.3"/><circle cx="576.7" cy="1275.8" r="7.3"/><circle cx="597.5" cy="1285.0" r="7.3"/><circle cx="584.2" cy="1295.8" r="7.3"/><circle cx="593.3" cy="1297.5" r="7.3"/><circle cx="613.3" cy="1286.7" r="7.3"/><circle cx="623.3" cy="1293.3" r="7.3"/><circle cx="615.0" cy="1305.0" r="7.3"/><circle cx="635.0" cy="1270.0" r="7.3"/><circle cx="563.3" cy="1309.2" r="7.3"/><circle cx="570.0" cy="1304.2" r="7.3"/><circle cx="523.3" cy="1313.3" r="7.3"/><circle cx="636.7" cy="1306.7" r="7.3"/><circle cx="610.0" cy="1315.0" r="7.3"/><circle cx="776.7" cy="1187.5" r="7.3"/><circle cx="765.0" cy="1190.0" r="7.3"/><circle cx="744.2" cy="1215.8" r="7.3"/><circle cx="731.7" cy="1215.8" r="7.3"/><circle cx="720.0" cy="1226.7" r="7.3"/><circle cx="710.8" cy="1245.8" r="7.3"/><circle cx="703.3" cy="1253.3" r="7.3"/><circle cx="690.8" cy="1253.3" r="7.3"/><circle cx="677.5" cy="1245.0" r="7.3"/><circle cx="680.8" cy="1265.0" r="7.3"/><circle cx="719.2" cy="1271.7" r="7.3"/><circle cx="726.7" cy="1277.5" r="7.3"/><circle cx="698.3" cy="1295.8" r="7.3"/><circle cx="688.3" cy="1303.3" r="7.3"/><circle cx="678.3" cy="1310.0" r="7.3"/><circle cx="668.3" cy="1292.5" r="7.3"/><circle cx="646.7" cy="1288.3" r="7.3"/><circle cx="643.3" cy="1296.7" r="7.3"/><circle cx="664.2" cy="1272.5" r="7.3"/><circle cx="660.8" cy="1261.7" r="7.3"/><circle cx="640.0" cy="1270.0" r="7.3"/><circle cx="618.3" cy="1283.3" r="7.3"/><circle cx="613.3" cy="1294.2" r="7.3"/><circle cx="580.0" cy="1275.0" r="7.3"/><circle cx="738.3" cy="1322.2" r="7.3"/><circle cx="763.3" cy="1320.5" r="7.3"/><circle cx="727.0" cy="1337.2" r="7.3"/><circle cx="794.5" cy="1327.8" r="7.3"/><circle cx="824.2" cy="1346.3" r="7.3"/><circle cx="874.2" cy="1352.2" r="7.3"/><circle cx="742.0" cy="1397.0" r="7.3"/><circle cx="841.7" cy="870.0" r="7.3"/><circle cx="863.3" cy="873.3" r="7.3"/><circle cx="870.8" cy="877.5" r="7.3"/><circle cx="855.0" cy="887.5" r="7.3"/><circle cx="865.0" cy="895.8" r="7.3"/><circle cx="825.0" cy="885.0" r="7.3"/><circle cx="841.7" cy="908.3" r="7.3"/><circle cx="850.0" cy="901.7" r="7.3"/><circle cx="863.3" cy="916.7" r="7.3"/><circle cx="866.7" cy="930.0" r="7.3"/><circle cx="873.3" cy="946.7" r="7.3"/><circle cx="846.7" cy="941.7" r="7.3"/><circle cx="850.0" cy="960.0" r="7.3"/><circle cx="835.0" cy="960.0" r="7.3"/><circle cx="843.3" cy="973.3" r="7.3"/><circle cx="862.5" cy="973.3" r="7.3"/><circle cx="868.3" cy="1010.8" r="7.3"/><circle cx="893.3" cy="1025.0" r="7.3"/><circle cx="883.3" cy="1018.3" r="7.3"/><circle cx="831.7" cy="1028.3" r="7.3"/><circle cx="853.3" cy="1020.0" r="7.3"/><circle cx="873.3" cy="1035.0" r="7.3"/><circle cx="851.7" cy="1040.0" r="7.3"/><circle cx="873.3" cy="1065.0" r="7.3"/><circle cx="852.5" cy="1070.8" r="7.3"/><circle cx="861.7" cy="1078.3" r="7.3"/><circle cx="830.8" cy="1080.0" r="7.3"/><circle cx="816.7" cy="1075.0" r="7.3"/><circle cx="850.0" cy="1090.0" r="7.3"/><circle cx="890.0" cy="1083.3" r="7.3"/><circle cx="806.7" cy="1133.3" r="7.3"/><circle cx="780.0" cy="1143.3" r="7.3"/><circle cx="885.0" cy="1130.0" r="7.3"/><circle cx="881.7" cy="1141.7" r="7.3"/><circle cx="821.7" cy="1155.0" r="7.3"/></g>
<g fill="#000"><circle cx="1504.0" cy="533.3" r="7.3"/><circle cx="1633.3" cy="600.0" r="7.3"/><circle cx="1441.8" cy="657.8" r="7.3"/><circle cx="1703.3" cy="652.2" r="7.3"/><circle cx="1116.7" cy="544.4" r="7.3"/><circle cx="1169.3" cy="598.2" r="7.3"/><circle cx="1261.1" cy="598.2" r="7.3"/><circle cx="1132.9" cy="633.3" r="7.3"/><circle cx="1241.1" cy="650.0" r="7.3"/><circle cx="1238.9" cy="661.8" r="7.3"/><circle cx="1303.3" cy="669.3" r="7.3"/><circle cx="1132.9" cy="728.9" r="7.3"/><circle cx="1115.6" cy="741.8" r="7.3"/><circle cx="1267.1" cy="752.9" r="7.3"/><circle cx="1107.8" cy="792.2" r="7.3"/><circle cx="1318.4" cy="779.6" r="7.3"/><circle cx="1228.4" cy="808.9" r="7.3"/><circle cx="1466.7" cy="813.3" r="7.3"/><circle cx="1286.2" cy="846.2" r="7.3"/><circle cx="1178.9" cy="856.0" r="7.3"/><circle cx="1167.8" cy="874.4" r="7.3"/><circle cx="1105.6" cy="918.9" r="7.3"/><circle cx="1216.7" cy="933.8" r="7.3"/><circle cx="1583.3" cy="874.4" r="7.3"/><circle cx="1054.4" cy="937.3" r="7.3"/><circle cx="1051.6" cy="1016.0" r="7.3"/><circle cx="1192.7" cy="1010.7" r="7.3"/><circle cx="1154.0" cy="1029.3" r="7.3"/><circle cx="1135.6" cy="1040.7" r="7.3"/><circle cx="1003.3" cy="1079.6" r="7.3"/><circle cx="1050.7" cy="1096.7" r="7.3"/><circle cx="1081.8" cy="1126.4" r="7.3"/><circle cx="997.1" cy="1176.7" r="7.3"/><circle cx="983.3" cy="1186.0" r="7.3"/><circle cx="1142.9" cy="1201.1" r="7.3"/><circle cx="892.5" cy="424.7" r="7.3"/><circle cx="962.5" cy="434.8" r="7.3"/><circle cx="808.0" cy="333.3" r="7.3"/><circle cx="800.8" cy="395.0" r="7.3"/><circle cx="663.8" cy="421.3" r="7.3"/><circle cx="696.2" cy="417.5" r="7.3"/><circle cx="745.8" cy="423.0" r="7.3"/><circle cx="633.7" cy="456.3" r="7.3"/><circle cx="718.7" cy="480.8" r="7.3"/><circle cx="681.2" cy="490.5" r="7.3"/><circle cx="615.0" cy="497.5" r="7.3"/><circle cx="586.7" cy="503.0" r="7.3"/><circle cx="841.7" cy="450.8" r="7.3"/><circle cx="854.2" cy="462.5" r="7.3"/><circle cx="821.7" cy="471.7" r="7.3"/><circle cx="963.3" cy="518.0" r="7.3"/><circle cx="895.3" cy="540.3" r="7.3"/><circle cx="924.2" cy="557.5" r="7.3"/><circle cx="987.5" cy="577.5" r="7.3"/><circle cx="990.0" cy="591.7" r="7.3"/><circle cx="1079.5" cy="493.7" r="7.3"/><circle cx="1022.2" cy="553.3" r="7.3"/><circle cx="1003.3" cy="583.3" r="7.3"/><circle cx="1029.7" cy="604.2" r="7.3"/><circle cx="1047.2" cy="611.3" r="7.3"/><circle cx="973.8" cy="624.6" r="7.3"/><circle cx="951.0" cy="635.0" r="7.3"/><circle cx="965.0" cy="638.5" r="7.3"/><circle cx="1020.8" cy="634.8" r="7.3"/><circle cx="895.9" cy="639.8" r="7.3"/><circle cx="960.0" cy="649.2" r="7.3"/><circle cx="1017.2" cy="648.8" r="7.3"/><circle cx="918.8" cy="648.7" r="7.3"/><circle cx="928.8" cy="662.0" r="7.3"/><circle cx="902.5" cy="678.7" r="7.3"/><circle cx="911.7" cy="678.7" r="7.3"/><circle cx="971.2" cy="680.3" r="7.3"/><circle cx="1062.8" cy="673.7" r="7.3"/><circle cx="1083.0" cy="691.7" r="7.3"/><circle cx="906.3" cy="697.2" r="7.3"/><circle cx="920.0" cy="705.0" r="7.3"/><circle cx="931.3" cy="727.2" r="7.3"/><circle cx="1028.3" cy="732.8" r="7.3"/><circle cx="960.0" cy="747.5" r="7.3"/><circle cx="1011.2" cy="758.8" r="7.3"/><circle cx="991.2" cy="764.5" r="7.3"/><circle cx="1063.3" cy="768.0" r="7.3"/><circle cx="1099.2" cy="760.5" r="7.3"/><circle cx="916.3" cy="762.5" r="7.3"/><circle cx="903.3" cy="761.7" r="7.3"/><circle cx="942.5" cy="775.5" r="7.3"/><circle cx="996.2" cy="790.3" r="7.3"/><circle cx="1049.7" cy="795.8" r="7.3"/><circle cx="1053.3" cy="803.8" r="7.3"/><circle cx="926.3" cy="795.8" r="7.3"/><circle cx="920.0" cy="804.2" r="7.3"/><circle cx="965.0" cy="809.2" r="7.3"/><circle cx="898.3" cy="813.3" r="7.3"/><circle cx="1029.7" cy="816.7" r="7.3"/><circle cx="928.3" cy="822.5" r="7.3"/><circle cx="952.5" cy="824.2" r="7.3"/><circle cx="958.7" cy="833.3" r="7.3"/><circle cx="915.0" cy="840.8" r="7.3"/><circle cx="910.0" cy="854.2" r="7.3"/><circle cx="1013.3" cy="843.3" r="7.3"/><circle cx="979.7" cy="853.3" r="7.3"/><circle cx="978.3" cy="863.7" r="7.3"/><circle cx="994.7" cy="867.0" r="7.3"/><circle cx="930.0" cy="867.0" r="7.3"/><circle cx="985.8" cy="878.3" r="7.3"/><circle cx="1070.8" cy="880.0" r="7.3"/><circle cx="905.0" cy="904.2" r="7.3"/><circle cx="910.5" cy="902.5" r="7.3"/><circle cx="932.5" cy="898.7" r="7.3"/><circle cx="950.0" cy="910.0" r="7.3"/><circle cx="977.2" cy="910.0" r="7.3"/><circle cx="985.8" cy="904.2" r="7.3"/><circle cx="1024.7" cy="915.8" r="7.3"/><circle cx="1030.8" cy="911.7" r="7.3"/><circle cx="1053.3" cy="908.0" r="7.3"/><circle cx="912.5" cy="923.0" r="7.3"/><circle cx="960.0" cy="930.0" r="7.3"/><circle cx="961.2" cy="940.0" r="7.3"/><circle cx="947.5" cy="943.7" r="7.3"/><circle cx="962.5" cy="967.5" r="7.3"/><circle cx="987.5" cy="975.0" r="7.3"/><circle cx="970.0" cy="1018.3" r="7.3"/><circle cx="907.8" cy="1029.2" r="7.3"/><circle cx="945.0" cy="1041.7" r="7.3"/><circle cx="909.2" cy="1052.5" r="7.3"/><circle cx="983.3" cy="1074.2" r="7.3"/><circle cx="905.3" cy="1087.2" r="7.3"/><circle cx="917.8" cy="1094.7" r="7.3"/><circle cx="316.3" cy="814.7" r="7.3"/><circle cx="323.8" cy="910.0" r="7.3"/><circle cx="290.3" cy="1016.3" r="7.3"/><circle cx="338.8" cy="1117.0" r="7.3"/><circle cx="278.0" cy="1225.0" r="7.3"/><circle cx="290.3" cy="1257.0" r="7.3"/><circle cx="322.8" cy="1245.5" r="7.3"/><circle cx="332.8" cy="1258.7" r="7.3"/><circle cx="315.0" cy="1272.0" r="7.3"/><circle cx="245.3" cy="1270.0" r="7.3"/><circle cx="276.7" cy="1292.5" r="7.3"/><circle cx="222.0" cy="1303.7" r="7.3"/><circle cx="310.0" cy="1359.5" r="7.3"/><circle cx="374.7" cy="1404.5" r="7.3"/><circle cx="400.8" cy="1422.8" r="7.3"/><circle cx="409.7" cy="1490.0" r="7.3"/><circle cx="409.7" cy="1525.8" r="7.3"/><circle cx="540.3" cy="1434.2" r="7.3"/><circle cx="607.8" cy="1428.7" r="7.3"/><circle cx="502.0" cy="1480.8" r="7.3"/><circle cx="507.0" cy="1574.2" r="7.3"/></g>
<g fill="#f00"><circle cx="1520.0" cy="96.7" r="7.3"/><circle cx="1406.7" cy="158.2" r="7.3"/><circle cx="1147.8" cy="329.6" r="7.3"/><circle cx="1085.6" cy="419.3" r="7.3"/><circle cx="1152.9" cy="456.7" r="7.3"/><circle cx="1242.7" cy="464.0" r="7.3"/><circle cx="1342.2" cy="360.0" r="7.3"/><circle cx="1388.0" cy="428.4" r="7.3"/><circle cx="1426.7" cy="462.2" r="7.3"/><circle cx="906.3" cy="354.2" r="7.3"/><circle cx="918.8" cy="391.3" r="7.3"/><circle cx="962.5" cy="398.7" r="7.3"/><circle cx="246.7" cy="1441.7" r="7.3"/><circle cx="315.0" cy="1469.5" r="7.3"/></g>
<g stroke="#000" stroke-width="3.8" stroke-linecap="round"><line x1="1132.0" y1="369.6" x2="1100.2" y2="404.2"/><line x1="1309.5" y1="571.0" x2="1279.4" y2="588.3"/><line x1="1422.5" y1="757.7" x2="1339.2" y2="775.2"/><line x1="1116.8" y1="763.0" x2="1121.0" y2="815.9"/><line x1="1294.1" y1="813.2" x2="1249.0" y2="810.1"/><line x1="1306.3" y1="851.1" x2="1383.7" y2="868.9"/><line x1="1144.7" y1="1059.5" x2="1163.7" y2="1103.9"/><line x1="1069.5" y1="1104.8" x2="1201.6" y2="1164.8"/><line x1="931.5" y1="294.3" x2="914.5" y2="334.9"/><line x1="936.1" y1="336.0" x2="925.3" y2="371.5"/><line x1="854.6" y1="389.4" x2="846.2" y2="430.6"/><line x1="759.4" y1="334.1" x2="789.2" y2="377.6"/><line x1="533.6" y1="497.7" x2="565.6" y2="501.5"/><line x1="963.5" y1="458.6" x2="967.6" y2="488.9"/><line x1="911.3" y1="573.1" x2="892.0" y2="595.3"/><line x1="1151.2" y1="503.9" x2="1129.6" y2="526.1"/><line x1="909.3" y1="1113.4" x2="889.0" y2="1160.8"/><line x1="258.7" y1="1143.6" x2="272.9" y2="1204.8"/><line x1="248.6" y1="1199.9" x2="276.4" y2="1239.2"/><line x1="334.2" y1="1280.5" x2="425.8" y2="1321.7"/><line x1="320.1" y1="1378.4" x2="340.8" y2="1416.3"/><line x1="678.6" y1="511.1" x2="671.0" y2="572.3"/></g>
<g font-size="36.5" fill="#000" text-anchor="middle"><text transform="translate(1552.9,75.2) scale(0.97,1)">BAK1</text><text transform="translate(1373.6,205.1) scale(0.97,1)">PLAA</text><text transform="translate(1180.0,308.9) scale(0.97,1)">FBXO11</text><text transform="translate(1203.0,377.8) scale(0.97,1)">RPTOR</text><text transform="translate(1212.8,434.0) scale(0.97,1)">EIF4A1</text><text transform="translate(1376.0,338.4) scale(0.97,1)">HCCS</text><text transform="translate(1363.0,407.3) scale(0.97,1)">CASP9</text><text transform="translate(1336.7,488.9) scale(0.97,1)">CYCS</text><text transform="translate(1207.8,510.0) scale(0.97,1)">MFN1</text><text transform="translate(1472.2,508.4) scale(0.97,1)">APAF1</text><text transform="translate(1505.6,581.1) scale(0.97,1)">UBQLN1</text><text transform="translate(1686.1,579.3) scale(0.97,1)">MARCH5</text><text transform="translate(1476.1,637.8) scale(0.97,1)">ENY2</text><text transform="translate(1718.7,698.9) scale(0.97,1)">TP53</text><text transform="translate(1228.9,578.2) scale(0.97,1)">PPP6C</text><text transform="translate(1361.1,580.4) scale(0.97,1)">FAF2</text><text transform="translate(1321.5,645.6) scale(0.97,1)">UBE2K</text><text transform="translate(1407.6,704.0) scale(0.97,1)">VDAC2</text><text transform="translate(1205.0,708.4) scale(0.97,1)">DIABLO</text><text transform="translate(1352.0,758.9) scale(0.97,1)">SPOP</text><text transform="translate(1182.2,775.6) scale(0.97,1)">MIOS</text><text transform="translate(1475.1,770.0) scale(0.97,1)">NXT1</text><text transform="translate(1362.0,825.6) scale(0.97,1)">MEAF6</text><text transform="translate(1185.9,835.1) scale(0.97,1)">HSPD1</text><text transform="translate(1439.2,882.7) scale(0.97,1)">XPO7</text><text transform="translate(1306.7,932.2) scale(0.97,1)">GTF3A</text><text transform="translate(1557.4,826.7) scale(0.97,1)">HEATR3</text><text transform="translate(1615.2,920.7) scale(0.97,1)">RPL11</text><text transform="translate(1070.9,965.6) scale(0.97,1)">CCDC6</text><text transform="translate(1248.0,990.0) scale(0.97,1)">RIOK3</text><text transform="translate(1125.6,1015.1) scale(0.97,1)">SNN</text><text transform="translate(1240.4,1066.2) scale(0.97,1)">MCL1</text><text transform="translate(1085.2,1075.6) scale(0.97,1)">RNF10</text><text transform="translate(1204.4,1122.7) scale(0.97,1)">RB1</text><text transform="translate(1119.2,1179.6) scale(0.97,1)">AURKB</text><text transform="translate(1268.9,1178.9) scale(0.97,1)">TNPO1</text><text transform="translate(1056.7,1236.7) scale(0.97,1)">YPEL5</text><text transform="translate(1188.1,1247.8) scale(0.97,1)">RPL5</text><text transform="translate(933.0,285.3) scale(0.97,1)">ATP5J</text><text transform="translate(988.7,341.3) scale(0.97,1)">OPA1</text><text transform="translate(1045.7,397.5) scale(0.97,1)">TRIAP1</text><text transform="translate(854.6,379.7) scale(0.97,1)">KMT2D</text><text transform="translate(792.8,284.2) scale(0.97,1)">THG1L</text><text transform="translate(679.2,341.7) scale(0.97,1)">N6AMT1</text><text transform="translate(736.0,397.5) scale(0.97,1)">ALAS1</text><text transform="translate(578.8,398.7) scale(0.97,1)">C17orf89</text><text transform="translate(535.0,455.0) scale(0.97,1)">TEFM</text><text transform="translate(687.9,464.7) scale(0.97,1)">C12orf65</text><text transform="translate(611.7,550.0) scale(0.97,1)">CEP44</text><text transform="translate(778.3,459.7) scale(0.97,1)">ATP5E</text><text transform="translate(922.5,471.3) scale(0.97,1)">POLR3C</text><text transform="translate(831.2,518.3) scale(0.97,1)">RAB10</text><text transform="translate(739.5,521.3) scale(0.97,1)">EIF3I</text><text transform="translate(804.2,575.3) scale(0.97,1)">PMM2</text><text transform="translate(1059.6,459.7) scale(0.97,1)">GMPPB</text><text transform="translate(1008.9,509.2) scale(0.97,1)">TAZ</text><text transform="translate(1095.8,537.5) scale(0.97,1)">EIF4G1</text><text transform="translate(951.3,564.2) scale(0.97,1)">HHEX</text><text transform="translate(1097.1,652.5) scale(0.97,1)">KCTD5</text><text transform="translate(1085.7,854.2) scale(0.97,1)">SUV420H1</text><text transform="translate(1145.2,910.3) scale(0.97,1)">CDKN1A</text><text transform="translate(881.3,1008.7) scale(0.97,1)">ATG2B</text><text transform="translate(1017.1,1018.3) scale(0.97,1)">ING3</text><text transform="translate(953.8,1065.8) scale(0.97,1)">OR2G3</text><text transform="translate(970.8,1140.3) scale(0.97,1)">UBE2H</text><text transform="translate(814.2,1122.5) scale(0.97,1)">SMIM15</text><text transform="translate(802.3,1178.0) scale(0.97,1)">TBC1D15</text><text transform="translate(915.6,1235.8) scale(0.97,1)">TTC14</text><text transform="translate(277.1,862.0) scale(0.97,1)">LGI4</text><text transform="translate(324.5,995.8) scale(0.97,1)">SIN3A</text><text transform="translate(388.0,1095.8) scale(0.97,1)">ING1</text><text transform="translate(257.7,1135.0) scale(0.97,1)">CNOT2</text><text transform="translate(228.5,1191.7) scale(0.97,1)">HEXIM1</text><text transform="translate(225.2,1249.2) scale(0.97,1)">PSMC3</text><text transform="translate(371.3,1223.3) scale(0.97,1)">TCF4</text><text transform="translate(398.3,1279.2) scale(0.97,1)">TSC2</text><text transform="translate(347.5,1337.5) scale(0.97,1)">VPS51</text><text transform="translate(205.2,1350.8) scale(0.97,1)">MSI2</text><text transform="translate(225.0,1408.0) scale(0.97,1)">WAPAL</text><text transform="translate(347.1,1450.8) scale(0.97,1)">BRD2</text><text transform="translate(217.8,1488.7) scale(0.97,1)">TCF3</text><text transform="translate(339.5,1517.0) scale(0.97,1)">KPTN</text><text transform="translate(404.0,1572.0) scale(0.97,1)">TSC1</text><text transform="translate(493.3,1335.3) scale(0.97,1)">ABCB4</text><text transform="translate(455.0,1394.7) scale(0.97,1)">PDS5B</text><text transform="translate(593.8,1405.8) scale(0.97,1)">COG4</text><text transform="translate(468.8,1451.7) scale(0.97,1)">SZT2</text><text transform="translate(535.8,1528.7) scale(0.97,1)">TXNIP</text><text transform="translate(670.0,1475.8) scale(0.97,1)">EIF3K</text><text transform="translate(541.3,1620.8) scale(0.97,1)">NPRL3</text><text transform="translate(474.4,510.8) scale(0.97,1)">IKZF1</text><text transform="translate(671.0,606.3) scale(0.97,1)">URM1</text><text transform="translate(411.8,916.7) scale(0.97,1)">ATXN2L</text><text transform="translate(797.1,1064.7) scale(0.97,1)">ZNF460</text><text transform="translate(858.3,629.2) scale(0.97,1)">PRKRIR</text></g>
<g stroke="#333" stroke-width="5"><line x1="136" y1="193.3" x2="148" y2="193.3"/><line x1="136" y1="566.5" x2="148" y2="566.5"/><line x1="136" y1="939.8" x2="148" y2="939.8"/><line x1="136" y1="1313.1" x2="148" y2="1313.1"/><line x1="645.2" y1="1648" x2="645.2" y2="1660"/><line x1="1267.5" y1="1648" x2="1267.5" y2="1660"/></g>
<g font-size="59" fill="#4d4d4d" text-anchor="end"><text x="127" y="214.3">4</text><text x="127" y="587.5">2</text><text x="127" y="960.8">0</text><text x="127" y="1334.1">-2</text></g>
<g font-size="59" fill="#4d4d4d" text-anchor="middle"><text x="645.2" y="1711">0</text><text x="1267.5" y="1711">5</text></g>
<text x="502" y="1767" font-size="44" fill="#000" textLength="920" lengthAdjust="spacingAndGlyphs">Actinomycin D 0.001uM exp3 CRANKS score</text>
<text transform="translate(55,1208.3) rotate(-90)" x="0" y="0" font-size="44" fill="#000" textLength="748" lengthAdjust="spacingAndGlyphs">PU-H71 1uM exp515 CRANKS score</text>
</svg></body></html>
